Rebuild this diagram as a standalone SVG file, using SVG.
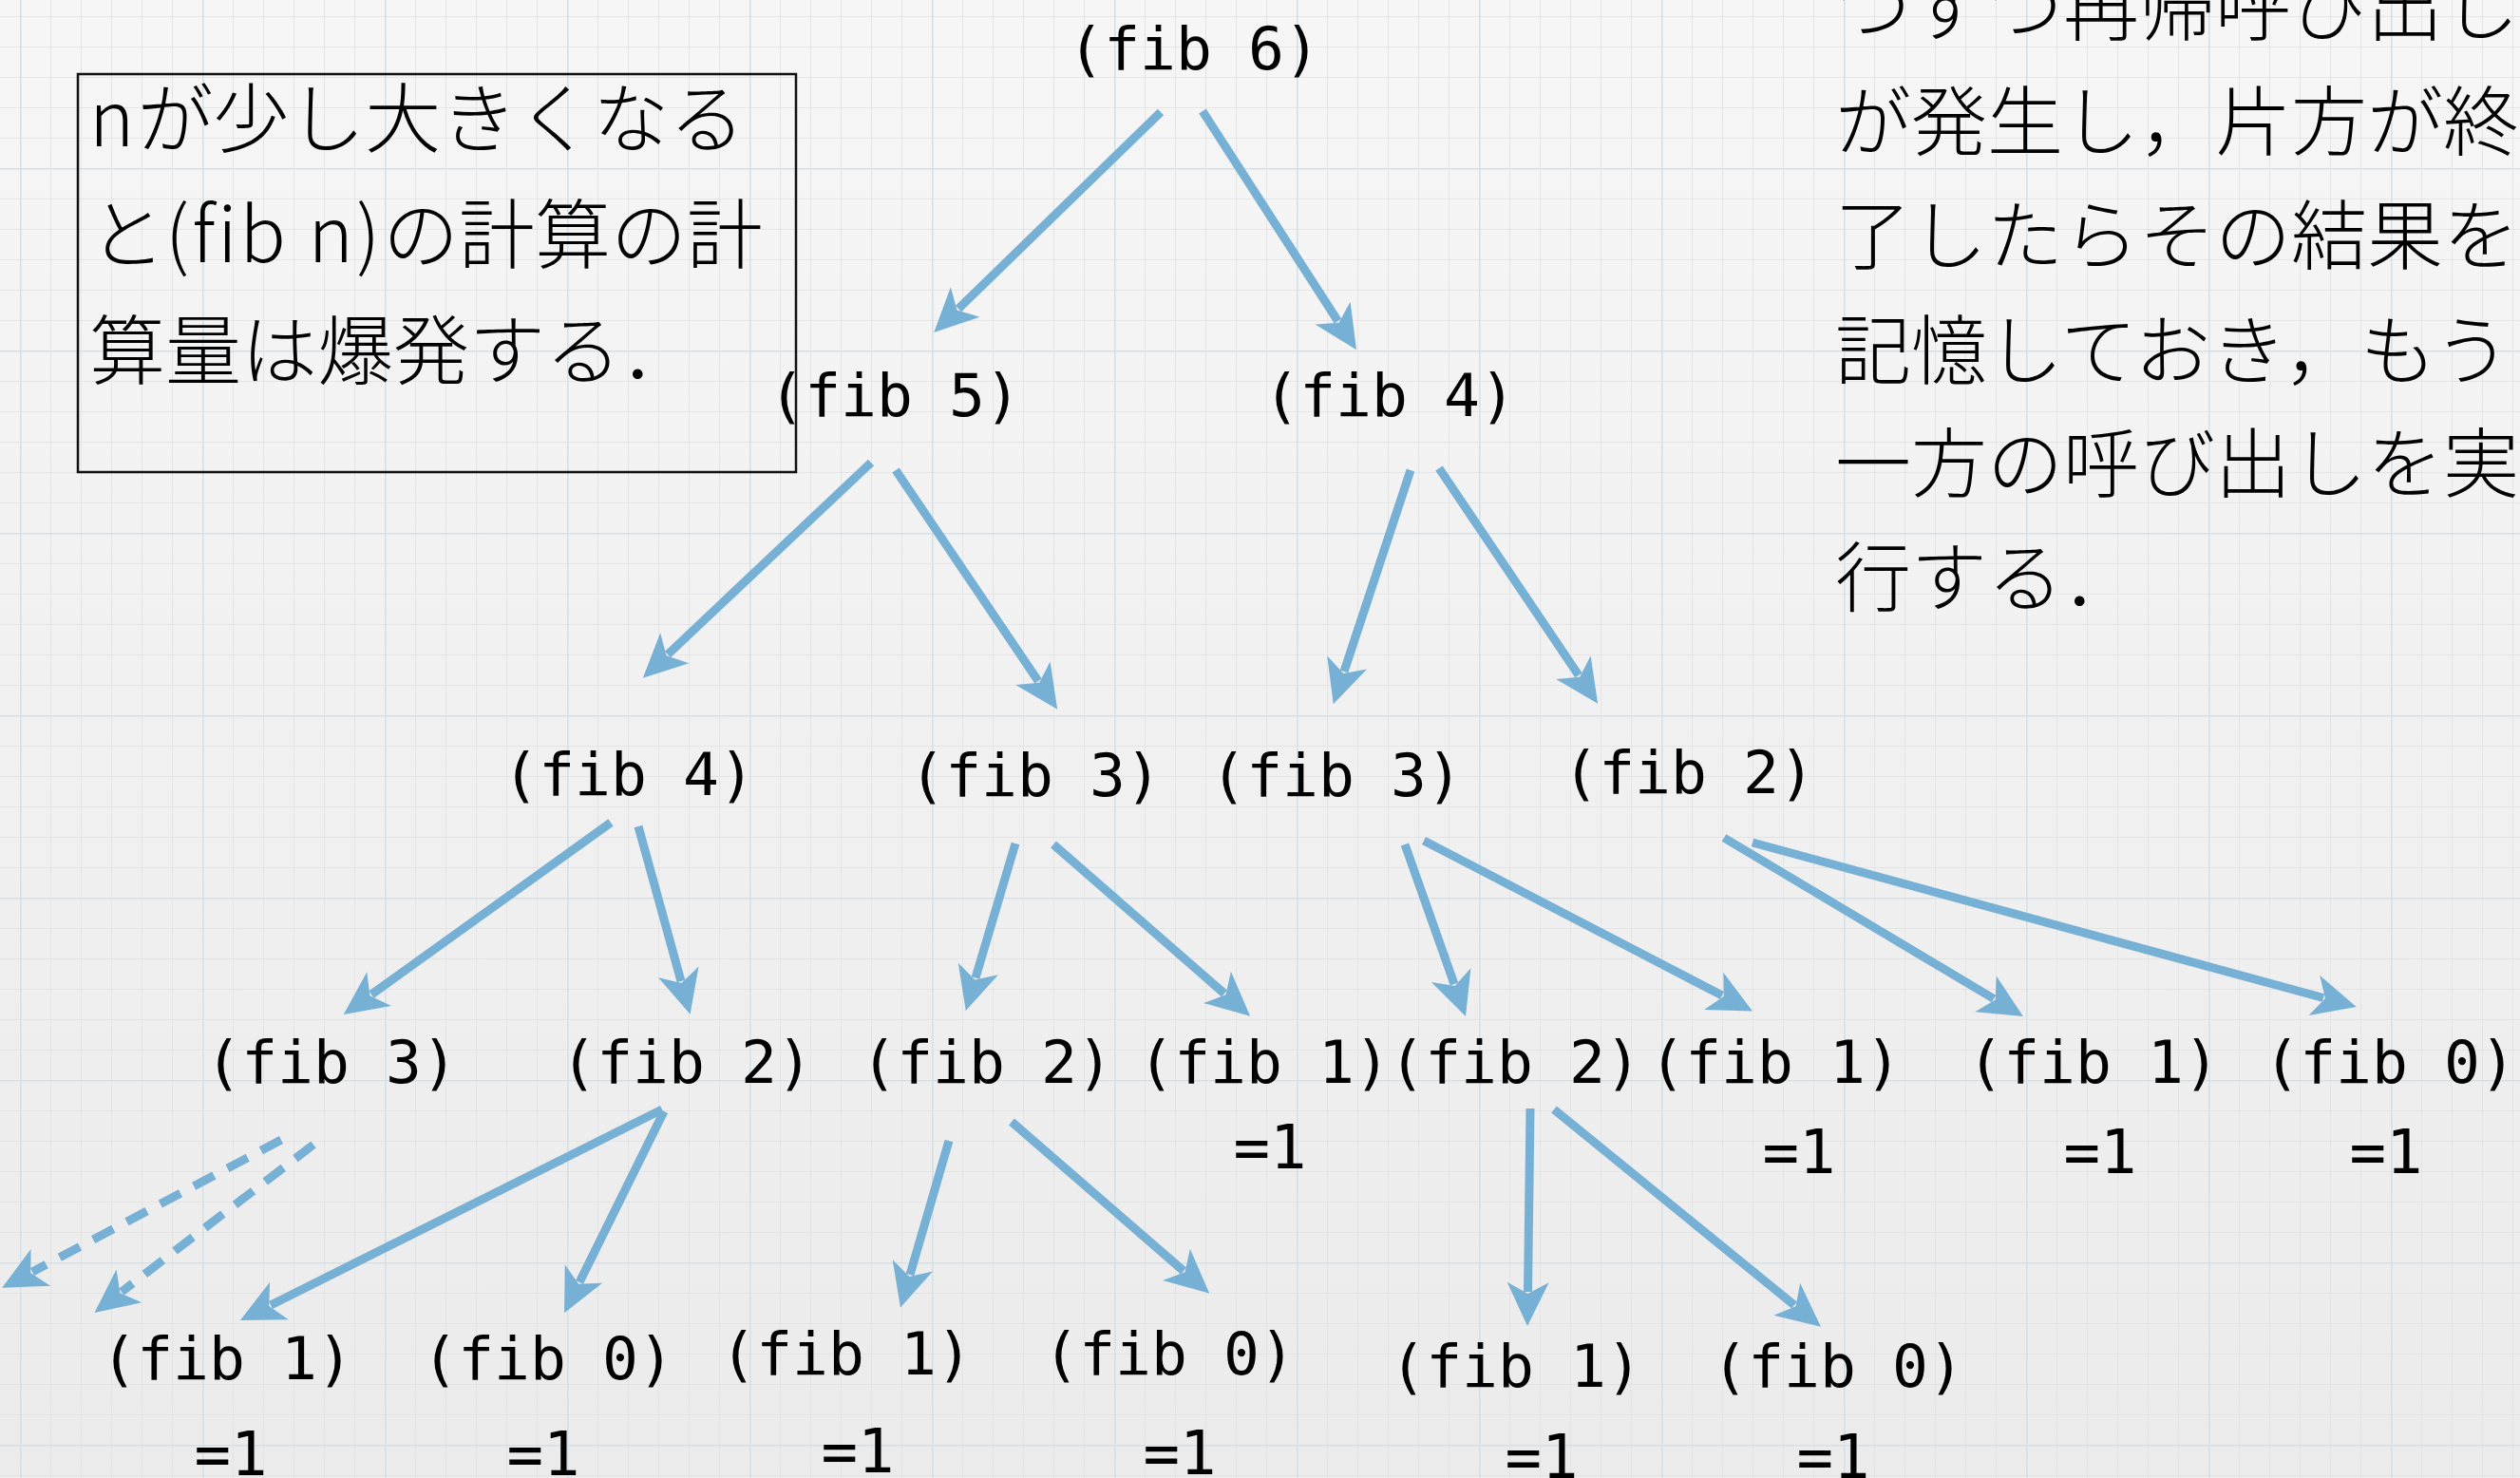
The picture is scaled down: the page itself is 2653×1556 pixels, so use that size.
<svg xmlns="http://www.w3.org/2000/svg" width="2653" height="1556" viewBox="0 0 2653 1556">
<defs>
<linearGradient id="bg" x1="0" y1="0" x2="0" y2="1">
<stop offset="0" stop-color="#f6f6f6"/>
<stop offset="1" stop-color="#ebebeb"/>
</linearGradient>
<pattern id="minor" patternUnits="userSpaceOnUse" x="21" y="17" width="32" height="32">
<path d="M0,0 V32 M0,0 H32" stroke="#d4e6ee" stroke-width="1.6" fill="none"/>
</pattern>
<pattern id="major" patternUnits="userSpaceOnUse" x="21" y="177" width="192" height="192">
<path d="M0,0 V192 M0,0 H192" stroke="#cde2ec" stroke-width="3.2" fill="none"/>
</pattern>
<marker id="ah" markerUnits="userSpaceOnUse" viewBox="-12 -24 50 48" markerWidth="50" markerHeight="48" refX="0" refY="0" orient="auto" overflow="visible">
<path d="M36,0 L-10,-22 L2,0 L-10,22 Z" fill="#76b0d5"/>
</marker>
</defs>
<style>
.fib{font-family:"DejaVu Sans Mono","Liberation Mono",monospace;font-size:63px;fill:#000;text-anchor:middle}
.eq{font-family:"DejaVu Sans Mono","Liberation Mono",monospace;font-size:64px;fill:#000;text-anchor:middle}
.jp{font-family:"Noto Sans CJK JP","Noto Sans",sans-serif;font-size:80px;font-weight:300;fill:#000}
.lat{letter-spacing:3px}
.c{stroke:#76b0d5;stroke-width:9;fill:none;marker-end:url(#ah)}
.d{stroke-dasharray:24 16}
</style>
<rect width="2653" height="1556" fill="url(#bg)"/>
<rect width="2653" height="1556" fill="url(#minor)"/>
<rect width="2653" height="1556" fill="url(#major)"/>

<g id="note-left">
<rect x="82" y="78" width="756" height="419" fill="none" stroke="#111" stroke-width="2.5"/>
<text class="jp" x="94" y="154"><tspan class="lat">n</tspan>が少し大きくなる</text>
<text class="jp" x="94" y="276">と<tspan class="lat">(fib n)</tspan>の計算の計</text>
<text class="jp" x="94" y="398">算量は爆発する．</text>
</g>

<g id="note-right">
<text class="jp" x="1932" y="36">つずつ再帰呼び出し</text>
<text class="jp" x="1932" y="157">が発生し，片方が終</text>
<text class="jp" x="1932" y="277">了したらその結果を</text>
<text class="jp" x="1932" y="398">記憶しておき，もう</text>
<text class="jp" x="1932" y="517">一方の呼び出しを実</text>
<text class="jp" x="1932" y="637">行する．</text>
</g>

<g id="connectors">
<path class="c" d="M1222,118 L1009,325"/>
<path class="c" d="M1266,117 L1408.5,338"/>
<path class="c" d="M917,487 L703,689"/>
<path class="c" d="M943,495 L1093,717"/>
<path class="c" d="M1485,495 L1415,707"/>
<path class="c" d="M1515,493 L1662,711"/>
<path class="c" d="M643,866 L391,1047"/>
<path class="c" d="M672,870 L717,1033"/>
<path class="c" d="M1069,888 L1027,1029.5"/>
<path class="c" d="M1109,889 L1289,1046"/>
<path class="c" d="M1479,889 L1531,1036"/>
<path class="c" d="M1499,885 L1813,1048"/>
<path class="c" d="M1815,882 L2099,1051.5"/>
<path class="c" d="M1845,887 L2446,1050.5"/>
<path class="c" d="M697,1168 L285,1374"/>
<path class="c" d="M699,1170 L610,1350"/>
<path class="c d" d="M296,1200 L34,1339"/>
<path class="c d" d="M330,1205 L128,1360"/>
<path class="c" d="M999,1201 L958,1342"/>
<path class="c" d="M1065,1181 L1246,1338"/>
<path class="c" d="M1611,1167 L1608.5,1360"/>
<path class="c" d="M1636,1168 L1889,1374"/>
</g>

<g id="n-fib6"><text class="fib" x="1257" y="73">(fib 6)</text></g>
<g id="n-fib5"><text class="fib" x="942" y="438">(fib 5)</text></g>
<g id="n-fib4-a"><text class="fib" x="1463" y="438">(fib 4)</text></g>
<g id="n-fib4-b"><text class="fib" x="662" y="837">(fib 4)</text></g>
<g id="n-fib3-a"><text class="fib" x="1090" y="838">(fib 3)</text></g>
<g id="n-fib3-b"><text class="fib" x="1407" y="838">(fib 3)</text></g>
<g id="n-fib2-a"><text class="fib" x="1778" y="835">(fib 2)</text></g>
<g id="n-fib3-c"><text class="fib" x="349" y="1140">(fib 3)</text></g>
<g id="n-fib2-b"><text class="fib" x="723" y="1140">(fib 2)</text></g>
<g id="n-fib2-c"><text class="fib" x="1039" y="1140">(fib 2)</text></g>
<g id="n-fib1-a"><text class="fib" x="1331" y="1140">(fib 1)</text><text class="eq" x="1337" y="1230">=1</text></g>
<g id="n-fib2-d"><text class="fib" x="1595" y="1140">(fib 2)</text></g>
<g id="n-fib1-b"><text class="fib" x="1869" y="1140">(fib 1)</text><text class="eq" x="1894" y="1235">=1</text></g>
<g id="n-fib1-c"><text class="fib" x="2204" y="1140">(fib 1)</text><text class="eq" x="2211" y="1235">=1</text></g>
<g id="n-fib0-a"><text class="fib" x="2516" y="1140">(fib 0)</text><text class="eq" x="2512" y="1235">=1</text></g>
<g id="n-fib1-d"><text class="fib" x="239" y="1452">(fib 1)</text><text class="eq" x="243" y="1553">=1</text></g>
<g id="n-fib0-b"><text class="fib" x="577" y="1452">(fib 0)</text><text class="eq" x="572" y="1553">=1</text></g>
<g id="n-fib1-e"><text class="fib" x="891" y="1447">(fib 1)</text><text class="eq" x="903" y="1550">=1</text></g>
<g id="n-fib0-c"><text class="fib" x="1231" y="1447">(fib 0)</text><text class="eq" x="1242" y="1552">=1</text></g>
<g id="n-fib1-f"><text class="fib" x="1596" y="1460">(fib 1)</text><text class="eq" x="1623" y="1556">=1</text></g>
<g id="n-fib0-d"><text class="fib" x="1935" y="1460">(fib 0)</text><text class="eq" x="1930" y="1556">=1</text></g>
</svg>
